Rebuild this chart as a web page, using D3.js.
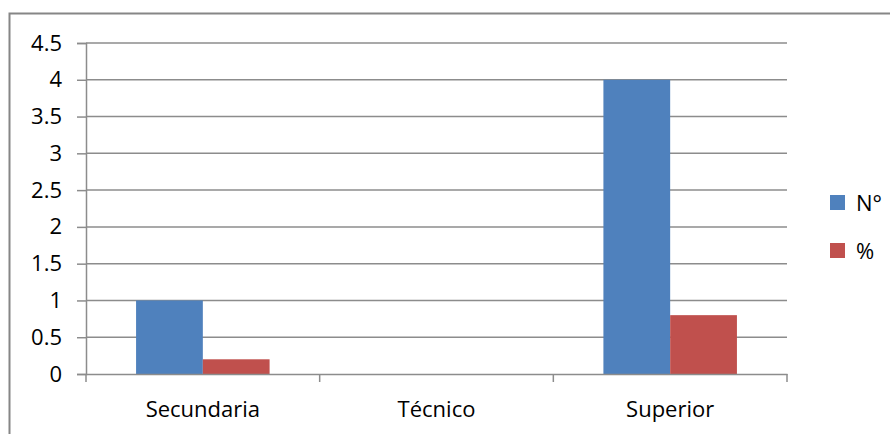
<!DOCTYPE html>
<html>
<head>
<meta charset="utf-8">
<script src="https://cdn.jsdelivr.net/npm/d3@7"></script>
<style>
  html, body { margin: 0; padding: 0; background: #fff; }
  svg { display: block; }
  text { font-family: "Open Sans", "Noto Sans", sans-serif; fill: #000; }
</style>
</head>
<body>
<svg id="chart" width="890" height="434"></svg>
<script>
// Education level counts and shares
const categories = ["Secundaria", "Técnico", "Superior"];
const seriesNames = ["N°", "%"];
const countValues = [1, 0, 4];
const percentValues = [0.2, 0, 0.8];
const yTicks = [0, 0.5, 1, 1.5, 2, 2.5, 3, 3.5, 4, 4.5];
const colors = ["#4f81bd", "#c0504d"];

const svg = d3.select("#chart");
const W = 890, H = 434;
const FS = "22px";

// outer frame (top and left edges visible)
svg.append("path")
  .attr("d", `M9.5,${H} V13.5 H${W}`)
  .attr("fill", "none")
  .attr("stroke", "#868686")
  .attr("stroke-width", 2);

const plot = { left: 86, right: 787, top: 43, bottom: 374 };

const x0 = d3.scaleBand().domain(categories)
  .range([plot.left, plot.right]).paddingInner(0).paddingOuter(0);
const inner = x0.bandwidth();
const barW = inner / 3.5; // gap width 150%
const x1 = d3.scaleBand().domain(seriesNames)
  .range([0, barW * 2]);

const y = d3.scaleLinear().domain([0, 4.5]).range([plot.bottom, plot.top]);

// gridlines
svg.append("g")
  .selectAll("line")
  .data(yTicks.filter(t => t > 0))
  .join("line")
  .attr("x1", plot.left).attr("x2", plot.right)
  .attr("y1", d => y(d)).attr("y2", d => y(d))
  .attr("stroke", "#8c8c8c").attr("stroke-width", 1.5);

// y axis
const yAxis = svg.append("g")
  .attr("transform", `translate(${plot.left},0)`)
  .call(d3.axisLeft(y).tickValues(yTicks).tickSize(9).tickPadding(15)
    .tickFormat(d => String(d)));
yAxis.select(".domain").attr("stroke", "#8c8c8c").attr("stroke-width", 1.5);
yAxis.selectAll(".tick line").attr("stroke", "#8c8c8c").attr("stroke-width", 1.5);
yAxis.selectAll(".tick text").style("font-size", FS)
  .style("font-family", "'Open Sans', sans-serif").attr("fill", "#000");

// bars
const rows = categories.map((c, i) => ({ cat: c, vals: [countValues[i], percentValues[i]] }));
const groups = svg.append("g").selectAll("g")
  .data(rows).join("g")
  .attr("transform", d => `translate(${x0(d.cat) + (inner - barW * 2) / 2},0)`);
groups.selectAll("rect")
  .data(d => d.vals.map((v, j) => ({ key: seriesNames[j], v, j })))
  .join("rect")
  .attr("x", d => x1(d.key))
  .attr("width", x1.bandwidth())
  .attr("y", d => y(d.v))
  .attr("height", d => y(0) - y(d.v))
  .attr("fill", d => colors[d.j]);

// x axis
const xAxis = svg.append("g")
  .attr("transform", `translate(0,${plot.bottom})`)
  .call(d3.axisBottom(x0).tickSize(0).tickPadding(27));
xAxis.select(".domain").attr("stroke", "#8c8c8c").attr("stroke-width", 1.5);
xAxis.selectAll(".tick text").style("font-size", FS)
  .style("font-family", "'Open Sans', sans-serif").attr("fill", "#000");
// category boundary tick marks
svg.append("g").selectAll("line")
  .data(categories.map(c => x0(c)).concat([plot.right]))
  .join("line")
  .attr("x1", d => d).attr("x2", d => d)
  .attr("y1", plot.bottom).attr("y2", plot.bottom + 8)
  .attr("stroke", "#8c8c8c").attr("stroke-width", 1.5);

// legend
const legend = svg.append("g").attr("transform", "translate(830,195)");
const items = legend.selectAll("g").data(seriesNames).join("g")
  .attr("transform", (d, i) => `translate(0,${i * 48})`);
items.append("rect").attr("width", 15).attr("height", 15)
  .attr("fill", (d, i) => colors[i]);
items.append("text").attr("x", 26).attr("y", 8).attr("dy", "0.35em")
  .style("font-size", FS).text(d => d);
</script>
</body>
</html>
